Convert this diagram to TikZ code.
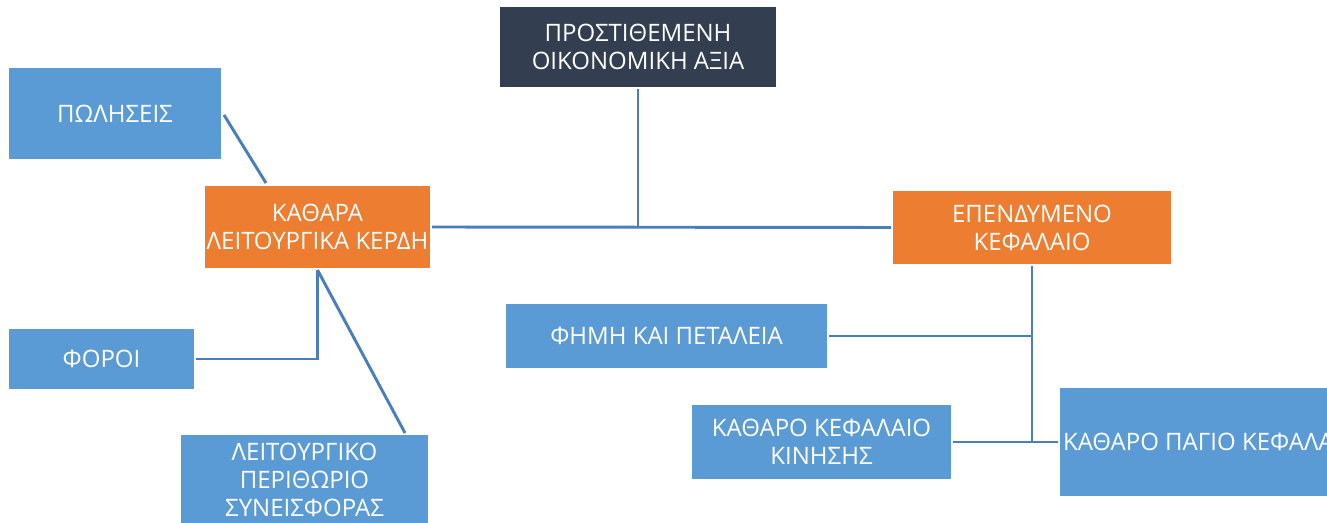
\documentclass[tikz,border=0pt]{standalone}
\usepackage{fontspec}
\setmainfont{Open Sans}
\definecolor{boxblue}{HTML}{5B9BD5}
\definecolor{boxorange}{HTML}{ED7D31}
\definecolor{boxdark}{HTML}{333F50}
\definecolor{linkblue}{HTML}{4A7EBB}
\tikzset{
  base/.style={rectangle, inner sep=0pt, outer sep=1.5pt, text=white, align=center,
    font=\fontsize{18}{21}\selectfont},
  bluebox/.style={base, fill=boxblue},
  orangebox/.style={base, fill=boxorange},
  darkbox/.style={base, fill=boxdark},
  link/.style={draw=linkblue, line width=2.2pt}
}
\begin{document}
\begin{tikzpicture}[x=0.75pt,y=-0.75pt]
\useasboundingbox (0,0) rectangle (1327,523);
\fill[white] (0,0) rectangle (1327,523);
\clip (0,0) rectangle (1327,523);
\node[darkbox, minimum width=276*0.75pt, minimum height=80*0.75pt] (top) at (638,47) {ΠΡΟΣΤΙΘΕΜΕΝΗ\\ΟΙΚΟΝΟΜΙΚΗ ΑΞΙΑ};
\node[bluebox, minimum width=212*0.75pt, minimum height=91*0.75pt] (sales) at (115,113.5) {ΠΩΛΗΣΕΙΣ};
\node[orangebox, minimum width=225*0.75pt, minimum height=82*0.75pt] (profit) at (317.5,227) {ΚΑΘΑΡΑ\\ΛΕΙΤΟΥΡΓΙΚΑ ΚΕΡΔΗ};
\node[orangebox, minimum width=278*0.75pt, minimum height=73*0.75pt] (capital) at (1032,227.5) {ΕΠΕΝΔΥΜΕΝΟ\\ΚΕΦΑΛΑΙΟ};
\node[bluebox, minimum width=321*0.75pt, minimum height=64*0.75pt] (fame) at (666.5,336) {ΦΗΜΗ ΚΑΙ ΠΕΤΑΛΕΙΑ};
\node[bluebox, minimum width=185*0.75pt, minimum height=60*0.75pt] (taxes) at (101.5,359) {ΦΟΡΟΙ};
\node[bluebox, minimum width=247*0.75pt, minimum height=90*0.75pt] (margin) at (304.5,480) {ΛΕΙΤΟΥΡΓΙΚΟ\\ΠΕΡΙΘΩΡΙΟ\\ΣΥΝΕΙΣΦΟΡΑΣ};
\node[bluebox, minimum width=259*0.75pt, minimum height=74*0.75pt] (working) at (821.5,442) {ΚΑΘΑΡΟ ΚΕΦΑΛΑΙΟ\\ΚΙΝΗΣΗΣ};
\node[bluebox, minimum width=302*0.75pt, minimum height=108*0.75pt] (fixed) at (1211,442) {ΚΑΘΑΡΟ ΠΑΓΙΟ ΚΕΦΑΛΑΙΟ};
% connector end points
\coordinate (salesStart) at (224,115);
\coordinate (salesEnd) at (266,183);
\coordinate (marginEnd) at (405,433);
\coordinate (topJoin) at (638,228);
% connectors
\draw[link] (top.south) -- (topJoin);
\draw[link] (profit.east) -- (capital.west);
\draw[link] (salesStart) -- (salesEnd);
\draw[link] (profit.south) |- (taxes.east);
\draw[link] (profit.south) -- (marginEnd);
\draw[link] (capital.south) -- (capital.south |- working.east);
\draw[link] (fame.east) -- (capital.south |- fame.east);
\draw[link] (working.east) -- (fixed.west);
\end{tikzpicture}
\end{document}
